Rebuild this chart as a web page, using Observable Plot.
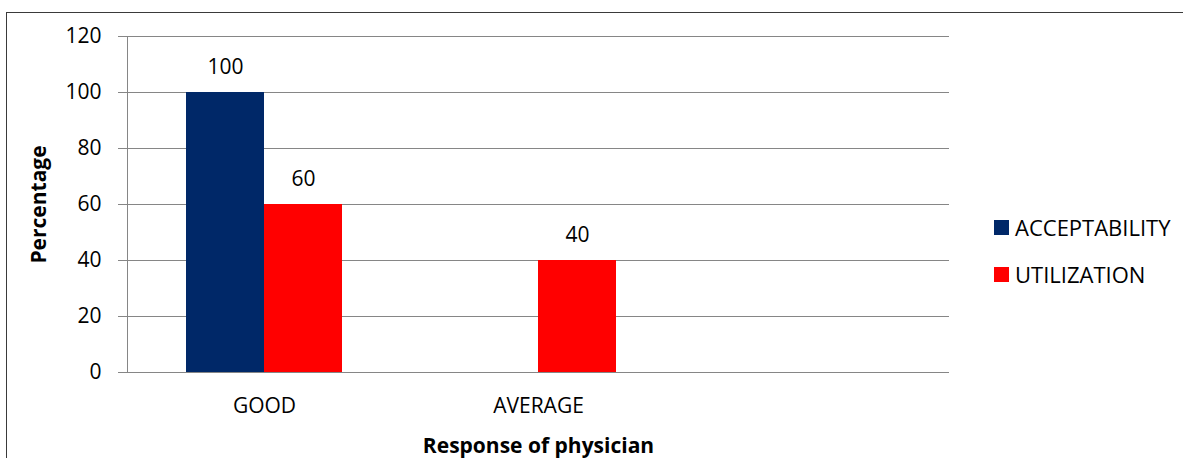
<!DOCTYPE html>
<html>
<head>
<meta charset="utf-8">
<script src="https://cdn.jsdelivr.net/npm/d3@7"></script>
<script src="https://cdn.jsdelivr.net/npm/@observablehq/plot@0.6"></script>
<style>
  html, body { margin: 0; padding: 0; background: #fff; overflow: hidden; }
  #wrap { position: relative; width: 1183px; height: 458px; font-family: "Open Sans", sans-serif; }
  #border { position: absolute; left: 6px; top: 12px; width: 1400px; height: 800px; border: 1px solid #3a3a3a; box-sizing: border-box; }
  #chart { position: absolute; left: 0; top: 0; }
  .legend { position: absolute; left: 994px; font-size: 22px; line-height: 30px; color: #000; display: flex; align-items: center; }
  .legend .sw { width: 15px; height: 15px; margin-right: 6px; }
</style>
</head>
<body>
<div id="wrap">
  <div id="border"></div>
  <div id="chart"></div>
  <div id="legend"></div>
</div>
<script>
const categories = ["GOOD", "AVERAGE", ""];
const series = ["ACCEPTABILITY", "UTILIZATION"];
const acceptability = [100, 0, 0];
const utilization = [60, 40, 0];
const yTicks = [0, 20, 40, 60, 80, 100, 120];
const colors = ["#002868", "#ff0000"];

const rows = [];
categories.forEach((c, i) => {
  rows.push({category: c, series: series[0], value: acceptability[i]});
  rows.push({category: c, series: series[1], value: utilization[i]});
});

const chart = Plot.plot({
  width: 1183,
  height: 458,
  marginLeft: 126,
  marginRight: 233,
  marginTop: 36,
  marginBottom: 86,
  style: {fontFamily: "'Open Sans', sans-serif", fontSize: "21px", background: "transparent", color: "#000"},
  fx: {domain: categories, padding: 0, label: null, axis: null},
  x: {domain: series, paddingInner: 0, paddingOuter: 0.75, axis: null},
  y: {domain: [0, 120]},
  color: {domain: series, range: colors},
  marks: [
    Plot.ruleY(yTicks, {stroke: "#868686", strokeWidth: 1, strokeOpacity: 1}),
    Plot.frame({anchor: "left", stroke: "#868686", strokeOpacity: 1, facetAnchor: "left"}),
    Plot.barY(rows, {fx: "category", x: "series", y: "value", fill: "series"}),
    Plot.text(rows.filter(d => d.value > 0), {fx: "category", x: "series", y: "value", text: d => String(d.value), dy: -25, fill: "#000", fontSize: 21}),
    Plot.axisY({ticks: yTicks, tickSize: 9, tickPadding: 17, stroke: "#868686", fill: "#000", label: "Percentage", labelAnchor: "center", labelArrow: "none", labelOffset: 96, fontSize: 21}),
    Plot.axisFx({anchor: "bottom", tickSize: 0, tickPadding: 26, fill: "#000", label: "Response of physician", labelAnchor: "center", labelArrow: "none", labelOffset: 80, fontSize: 21})
  ]
});
chart.querySelectorAll("text").forEach(t => {
  const tx = t.textContent;
  if (tx === "Percentage" || tx === "Response of physician") t.setAttribute("font-weight", "bold");
});
document.getElementById("chart").appendChild(chart);

const legend = document.getElementById("legend");
const legendTops = [212, 259];
series.forEach((s, i) => {
  const item = document.createElement("div");
  item.className = "legend";
  item.style.top = legendTops[i] + "px";
  item.innerHTML = `<div class="sw" style="background:${colors[i]}"></div><span>${s}</span>`;
  legend.appendChild(item);
});
</script>
</body>
</html>
